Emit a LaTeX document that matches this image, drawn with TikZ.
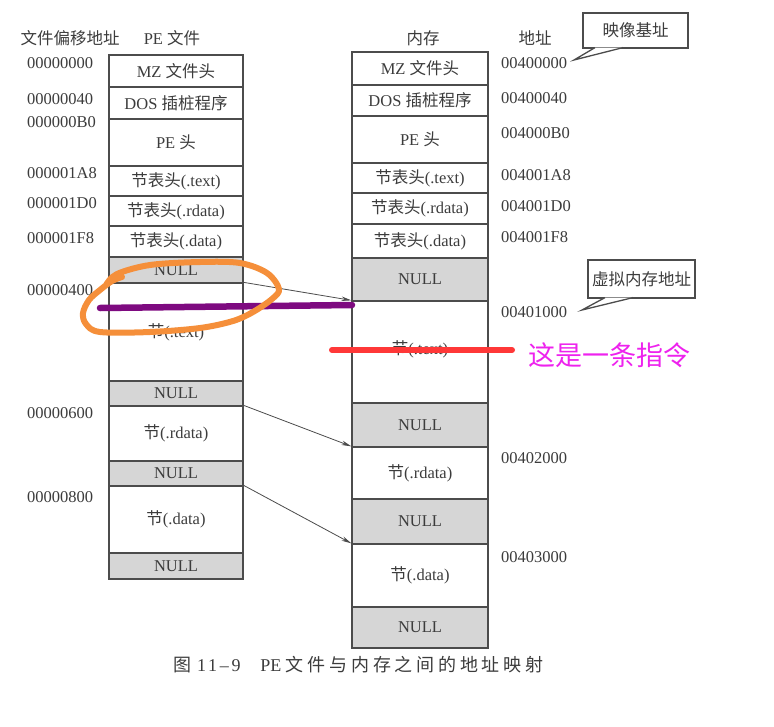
\documentclass[tikz,border=0pt]{standalone}
\usepackage{fontspec}
\setmainfont{Liberation Serif}
\newfontfamily\zh{Noto Sans CJK SC}
\newfontfamily\zhsans{Noto Sans CJK SC}
\usetikzlibrary{arrows.meta}
\newcommand{\z}[1]{{\zh #1}}
\definecolor{ink}{HTML}{3C3C3C}
\definecolor{edge}{HTML}{4C4C4C}
\definecolor{nullfill}{HTML}{D6D6D6}
\definecolor{purp}{HTML}{7E0A80}
\definecolor{redl}{HTML}{FF3838}
\definecolor{mag}{HTML}{EE22EE}
\definecolor{orng}{HTML}{F58F3A}
\begin{document}
\begin{tikzpicture}[x=1pt,y=-1pt,
  font=\fontsize{16.5}{18}\selectfont, text=ink,
  cell/.style={draw=edge, line width=1.3pt, fill=white, inner sep=0pt, text=ink},
  lcell/.style={cell, minimum width=134pt},
  rcell/.style={cell, minimum width=136pt},
  nullcell/.style={fill=nullfill},
  addr/.style={anchor=west, inner sep=0pt},
  head/.style={inner sep=0pt},
  map/.style={draw=edge, line width=0.8pt, -{Stealth[length=10pt,width=4.5pt]}},
  callout/.style={draw=edge, line width=1.3pt, fill=white, inner sep=0pt},
]
\fill[white] (0,0) rectangle (774,726);
\useasboundingbox (0,0) rectangle (774,726);

% headers
\node[head] (h1) at (70,38) {\z{文件偏移地址}};
\node[head] (h2) at (172,38) {PE \z{文件}};
\node[head] (h3) at (423,38) {\z{内存}};
\node[head] (h4) at (535,38) {\z{地址}};

% left column (PE file)
\node[lcell, minimum height=32pt] (L1) at (176,71) {MZ \z{文件头}};
\node[lcell, minimum height=32pt] (L2) at (176,103) {DOS \z{插桩程序}};
\node[lcell, minimum height=47pt] (L3) at (176,142.5) {PE \z{头}};
\node[lcell, minimum height=30pt] (L4) at (176,181) {\z{节表头}(.text)};
\node[lcell, minimum height=30pt] (L5) at (176,211) {\z{节表头}(.rdata)};
\node[lcell, minimum height=31pt] (L6) at (176,241.5) {\z{节表头}(.data)};
\node[lcell, nullcell, minimum height=26pt] (L7) at (176,270) {NULL};
\node[lcell, minimum height=98pt] (L8) at (176,332) {\z{节}(.text)};
\node[lcell, nullcell, minimum height=25pt] (L9) at (176,393.5) {NULL};
\node[lcell, minimum height=55pt] (L10) at (176,433.5) {\z{节}(.rdata)};
\node[lcell, nullcell, minimum height=25pt] (L11) at (176,473.5) {NULL};
\node[lcell, minimum height=67pt] (L12) at (176,519.5) {\z{节}(.data)};
\node[lcell, nullcell, minimum height=26pt] (L13) at (176,566) {NULL};

% right column (memory)
\node[rcell, minimum height=33pt] (R1) at (420,68.5) {MZ \z{文件头}};
\node[rcell, minimum height=31pt] (R2) at (420,100.5) {DOS \z{插桩程序}};
\node[rcell, minimum height=47pt] (R3) at (420,139.5) {PE \z{头}};
\node[rcell, minimum height=30pt] (R4) at (420,178) {\z{节表头}(.text)};
\node[rcell, minimum height=31pt] (R5) at (420,208.5) {\z{节表头}(.rdata)};
\node[rcell, minimum height=34pt] (R6) at (420,241) {\z{节表头}(.data)};
\node[rcell, nullcell, minimum height=43pt] (R7) at (420,279.5) {NULL};
\node[rcell, minimum height=102pt] (R8) at (420,352) {\raisebox{8pt}{\z{节}(.text)}};
\node[rcell, nullcell, minimum height=44pt] (R9) at (420,425) {NULL};
\node[rcell, minimum height=52pt] (R10) at (420,473) {\z{节}(.rdata)};
\node[rcell, nullcell, minimum height=45pt] (R11) at (420,521.5) {NULL};
\node[rcell, minimum height=63pt] (R12) at (420,575.5) {\z{节}(.data)};
\node[rcell, nullcell, minimum height=41pt] (R13) at (420,627.5) {NULL};

% left addresses
\node[addr] (a1) at (27,63) {00000000};
\node[addr] (a2) at (27,99) {00000040};
\node[addr] (a3) at (27,122) {000000B0};
\node[addr] (a4) at (27,173) {000001A8};
\node[addr] (a5) at (27,203) {000001D0};
\node[addr] (a6) at (27,238) {000001F8};
\node[addr] (a7) at (27,290) {00000400};
\node[addr] (a8) at (27,413) {00000600};
\node[addr] (a9) at (27,497) {00000800};

% right addresses
\node[addr] (b1) at (501,63) {00400000};
\node[addr] (b2) at (501,98) {00400040};
\node[addr] (b3) at (501,133) {004000B0};
\node[addr] (b4) at (501,175) {004001A8};
\node[addr] (b5) at (501,206) {004001D0};
\node[addr] (b6) at (501,237) {004001F8};
\node[addr] (b7) at (501,312) {00401000};
\node[addr] (b8) at (501,458) {00402000};
\node[addr] (b9) at (501,557) {00403000};

% mapping arrows
\draw[map] (L8.north east) -- (R8.north west);
\draw[map] (L10.north east) -- (R10.north west);
\draw[map] (L12.north east) -- (R12.north west);

% callout: image base
\node[callout, minimum width=105pt, minimum height=35pt] (c1) at (635.5,30.5) {\z{映像基址}};
\coordinate (c1a) at (595,47.6);
\coordinate (c1t) at (574,60);
\coordinate (c1b) at (623,47.6);
\fill[white] (c1a) -- (c1t) -- (c1b) -- cycle;
\draw[edge, line width=1.3pt, line join=miter] (c1a) -- (c1t) -- (c1b);

% callout: virtual memory address
\node[callout, minimum width=107pt, minimum height=38pt] (c2) at (641.5,279) {\z{虚拟内存地址}};
\coordinate (c2a) at (605,297.6);
\coordinate (c2t) at (582,310);
\coordinate (c2b) at (633,297.6);
\fill[white] (c2a) -- (c2t) -- (c2b) -- cycle;
\draw[edge, line width=1.3pt, line join=miter] (c2a) -- (c2t) -- (c2b);

% hand annotations
\coordinate (pA) at (100,308);
\coordinate (pB) at (352,305);
\draw[purp, line width=6.5pt, line cap=round] (pA) -- (pB);
\draw[orng, line width=6pt, line cap=round, line join=round]
  plot[smooth, tension=0.55] coordinates {(106,285) (117,274) (150,265) (200,262) (240,263) (267,273) (279,289) (272,299) (253,312) (233,321) (200,328) (150,332) (100,332) (86,324) (83,313) (89,300) (100,290) (112,281) (122,277)};
\coordinate (rA) at (332,350);
\coordinate (rB) at (512,350);
\draw[redl, line width=6pt, line cap=round] (rA) -- (rB);
\node[anchor=west, inner sep=0pt, text=mag, font=\zhsans\fontsize{27}{30}\selectfont] (note) at (528,355) {这是一条指令};

% caption
\node[anchor=west, inner sep=0pt, font=\fontsize{18}{20}\selectfont] (cap) at (173,665)
  {{\zh\addfontfeatures{LetterSpace=16}图}\hspace{6pt}{\addfontfeatures{LetterSpace=15}11–9}\hspace{1.1em}PE {\zh\addfontfeatures{LetterSpace=21}文件与内存之间的地址映射}};
\end{tikzpicture}
\end{document}
